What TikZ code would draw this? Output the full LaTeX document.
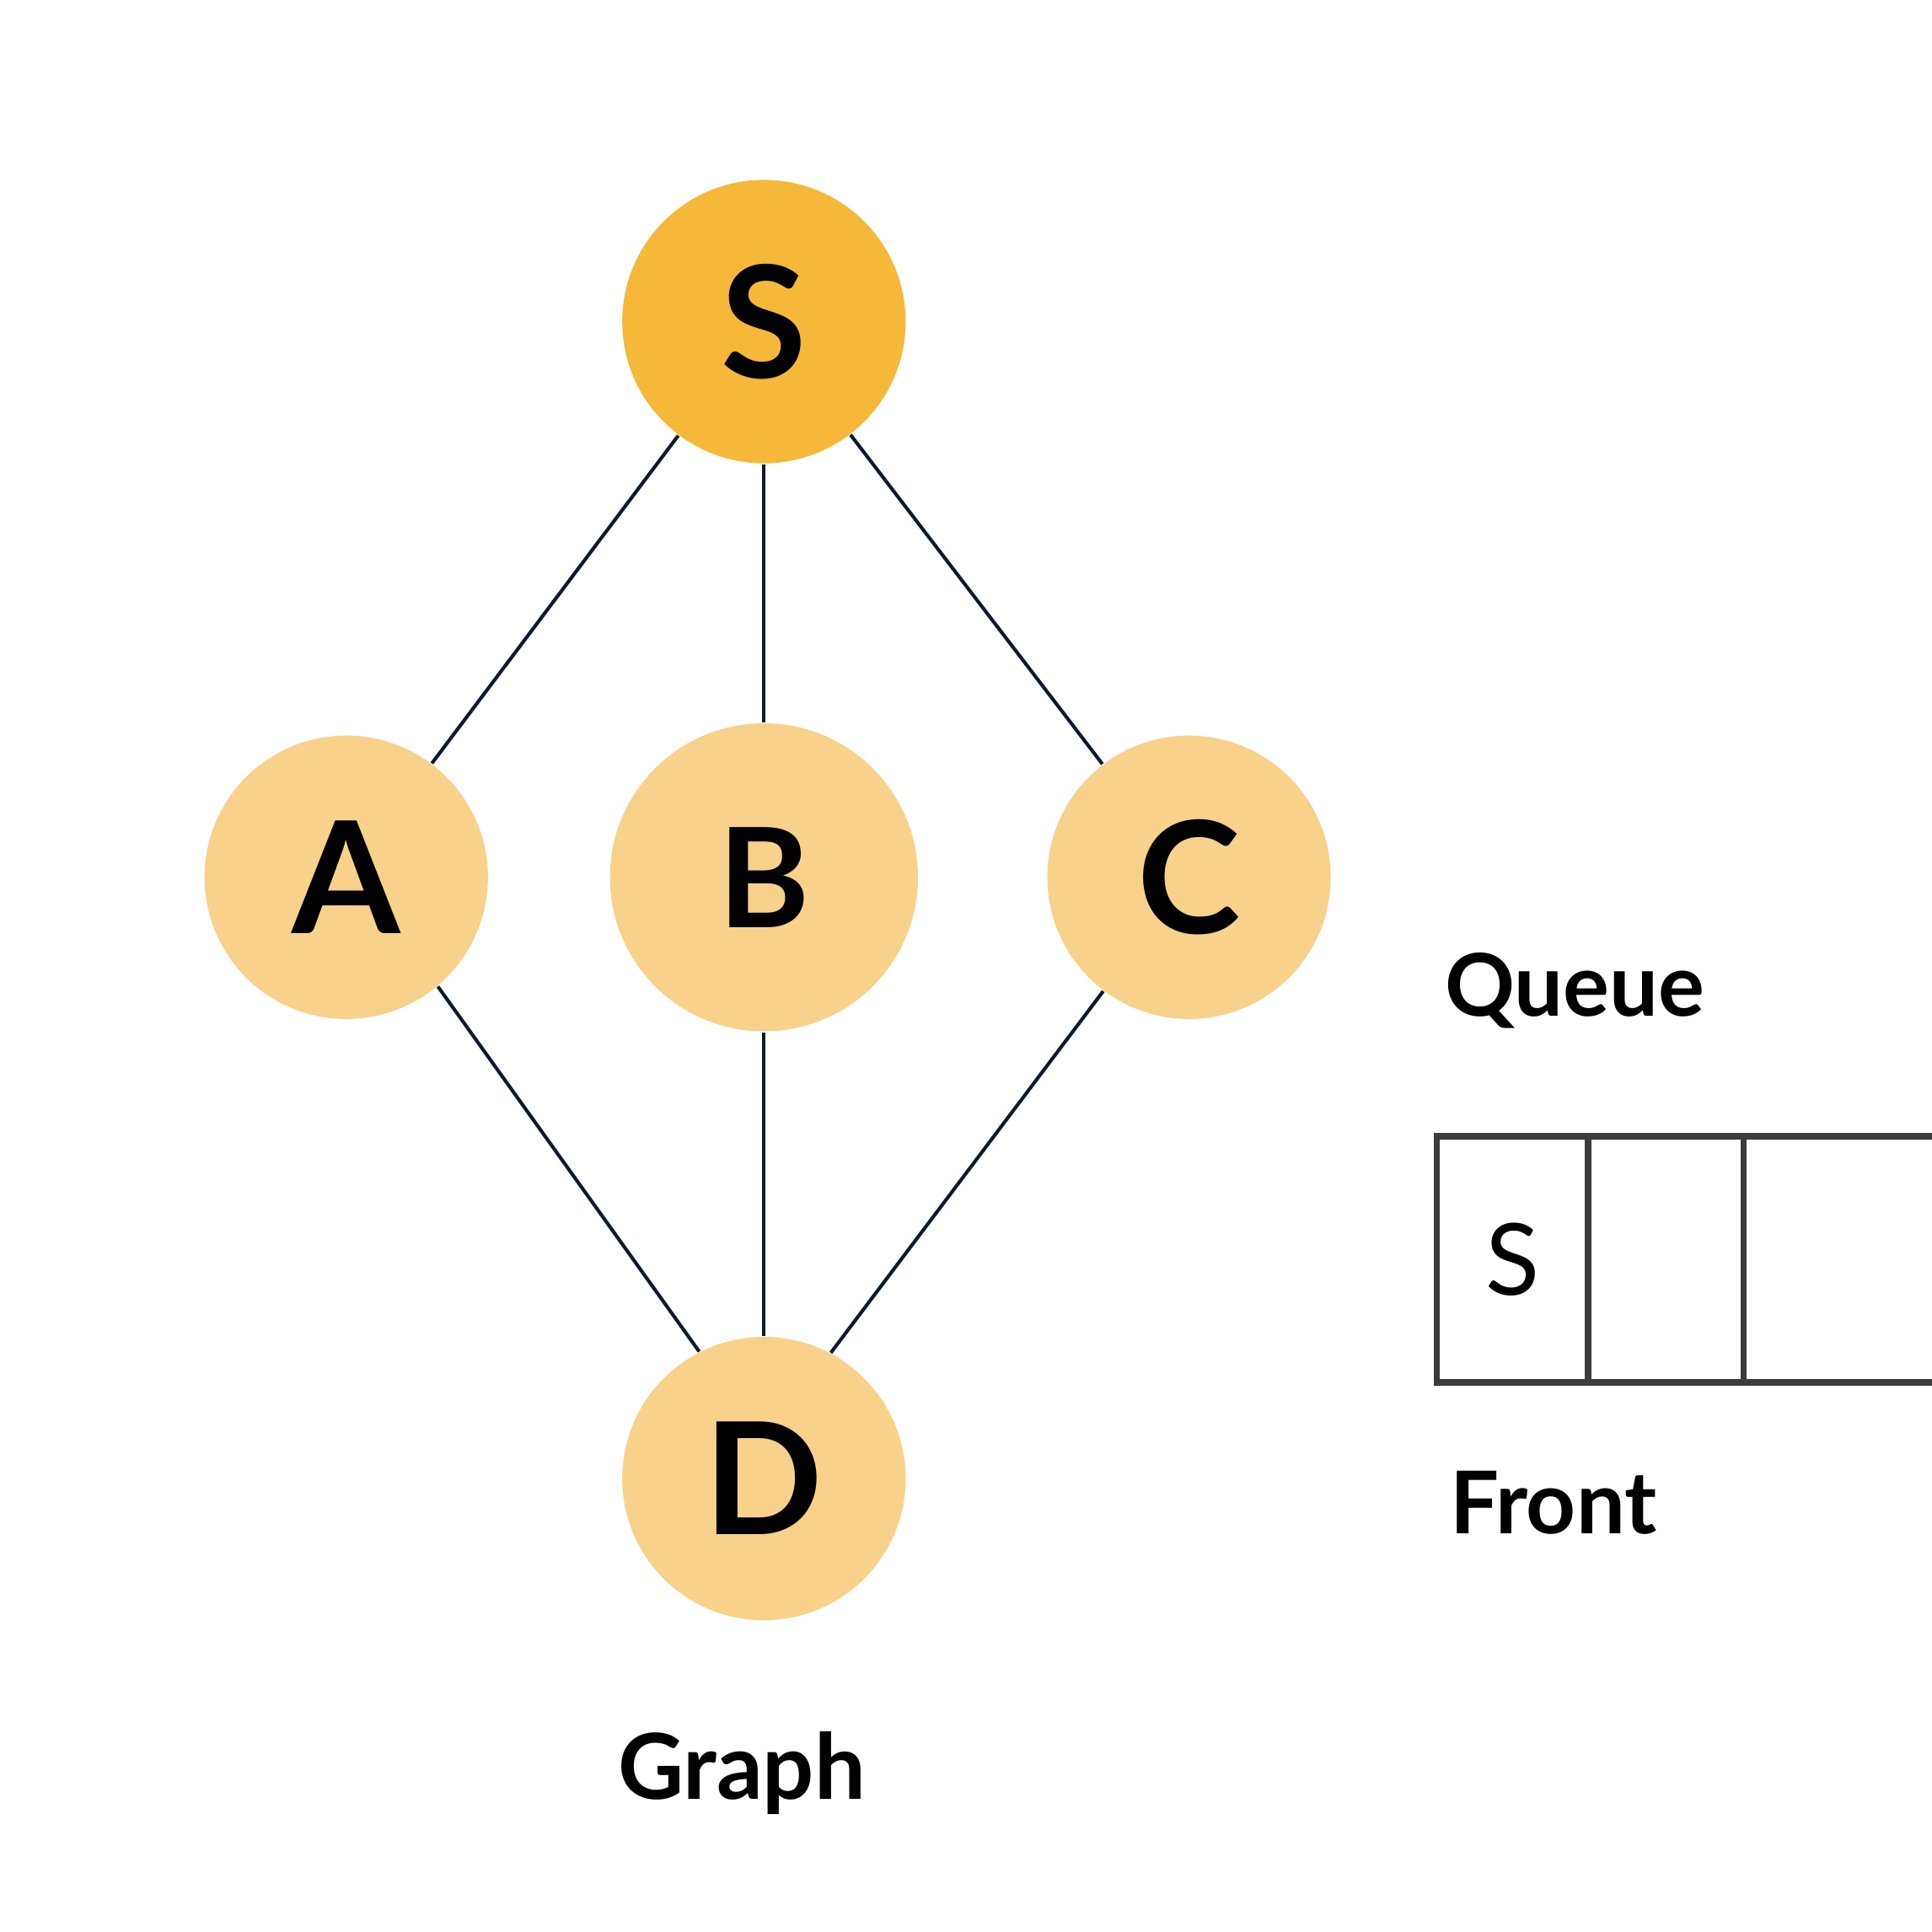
\documentclass[tikz,border=0pt]{standalone}
\usepackage{fontspec}
\setmainfont{Lato}
\usepackage{xcolor}
\usepackage{tikz}

\definecolor{startfill}{HTML}{F6B839}
\definecolor{vertfill}{HTML}{F8D18B}
\definecolor{edgecol}{HTML}{0E1A2B}
\definecolor{boxcol}{HTML}{3C3C3C}

\begin{document}
\begin{tikzpicture}[
	vertex/.style={circle, minimum size=2.3cm, inner sep=0pt, fill=vertfill, font=\fontsize{36}{36}\selectfont\bfseries},
	link/.style={draw=edgecol, line width=0.8pt},
	qcell/.style={rectangle, minimum height=2cm, inner sep=0pt, draw=boxcol, line width=1.5pt, font=\fontsize{23}{23}\selectfont},
	caption/.style={inner sep=0pt, font=\fontsize{20}{20}\selectfont\bfseries}
]
	\useasboundingbox (0,0) rectangle (15.68,-15.68);
	\clip (0,0) rectangle (15.68,-15.68);
	\node[vertex, fill=startfill] at (6.20,-2.61)(nodeS){S};
	\node[vertex] at (2.81,-7.12)(nodeA){A};
	\node[vertex, minimum size=2.5cm, font=\fontsize{32}{32}\selectfont\bfseries] at (6.20,-7.12)(nodeB){B};
	\node[vertex] at (9.65,-7.12)(nodeC){C};
	\node[vertex] at (6.20,-12.00)(nodeD){D};
	\draw[link](nodeS) -- (nodeA);
	\draw[link](nodeS) -- (nodeB);
	\draw[link](nodeS) -- (nodeC);
	\draw[link](nodeA.-50) -- (nodeD.117);
	\draw[link](nodeB) -- (nodeD);
	\draw[link](nodeC.-127) -- (nodeD.62);
	\node[caption, anchor=base, font=\fontsize{21}{21}\selectfont\bfseries] at (6.02,-14.60)(graphlabel){Graph};
	\node[caption, anchor=base west] at (11.72,-8.25)(queuelabel){Queue};
	\node[qcell, minimum width=1.23cm] at (12.275,-10.22)(cell1){S};
	\node[qcell, minimum width=1.26cm] at (13.52,-10.22)(cell2){};
	\node[qcell, minimum width=2.0cm] at (15.15,-10.22)(cell3){};
	\node[caption, anchor=base west] at (11.76,-12.45)(frontlabel){Front};
\end{tikzpicture}
\end{document}
